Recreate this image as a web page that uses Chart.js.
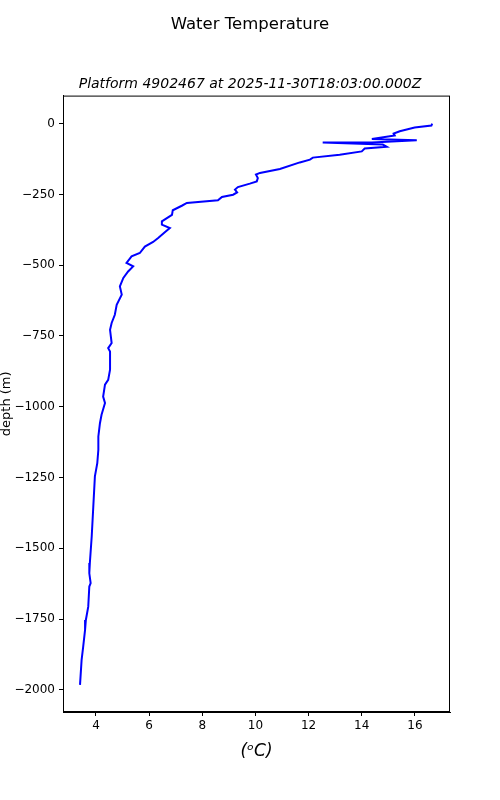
<!DOCTYPE html>
<html>
<head>
<meta charset="utf-8">
<script src="https://cdn.jsdelivr.net/npm/chart.js@4/dist/chart.umd.min.js"></script>
<style>
  html, body { margin: 0; padding: 0; background: #fff; }
  #wrap { width: 500px; height: 800px; }
</style>
</head>
<body>
<div id="wrap"><canvas id="profile"></canvas></div>
<script>
// profile: temperature (degC) and depth (m), in drawing order
var temperature = [16.65, 16.62, 15.99, 15.43, 15.20, 15.24, 14.38, 16.07, 14.38, 12.53,
	14.79, 14.94, 14.11, 14.00, 13.17, 12.16, 12.05, 11.67, 10.92, 10.17,
	10.02, 10.09, 10.05, 9.79, 9.34, 9.23, 9.31, 9.16, 8.74, 8.59,
	7.42, 7.23, 6.89, 6.86, 6.48, 6.48, 6.78, 6.59, 6.34, 6.15,
	5.84, 5.65, 5.34, 5.15, 5.40, 5.21, 5.03, 4.90, 4.97, 4.78,
	4.71, 4.59, 4.53, 4.59, 4.46, 4.53, 4.53, 4.46, 4.34, 4.27,
	4.34, 4.21, 4.15, 4.09, 4.09, 4.05, 3.96, 3.90, 3.84, 3.77,
	3.75, 3.80, 3.75, 3.71, 3.62, 3.59, 3.52, 3.46, 3.40];
var depth = [0, -7, -14, -27, -35, -42, -54, -59, -67, -67,
	-74, -82, -88, -98, -110, -120, -127, -137, -160, -174,
	-180, -192, -204, -212, -224, -233, -243, -251, -259, -271,
	-280, -290, -306, -322, -345, -357, -369, -384, -404, -418,
	-434, -457, -469, -492, -504, -522, -545, -575, -604, -640,
	-675, -704, -728, -775, -793, -805, -869, -905, -922, -964,
	-987, -1028, -1058, -1105, -1152, -1199, -1246, -1352, -1458, -1552,
	-1588, -1623, -1635, -1706, -1753, -1788, -1847, -1894, -1982];

var xTicks = [4, 6, 8, 10, 12, 14, 16];
var yTicks = [0, -250, -500, -750, -1000, -1250, -1500, -1750, -2000];

var points = [];
for (var i = 0; i < depth.length; i++) {
	points.push({x: temperature[i], y: depth[i]});
}

function minus(v) {
	return String(v).replace('-', '\u2212');
}

// top and right spines
var frame = {
	id: 'frame',
	afterDraw: function(chart) {
		var a = chart.chartArea, c = chart.ctx;
		c.save();
		c.strokeStyle = '#000';
		c.lineWidth = 1;
		c.strokeRect(a.left + 0.5, a.top + 0.5, a.right - a.left - 1, a.bottom - a.top - 1);
		c.restore();
	}
};

var ctx = document.getElementById('profile');

new Chart(ctx, {
	type: 'scatter',
	data: {
		datasets: [{
			label: 'temperature',
			data: points,
			showLine: true,
			borderColor: '#0000ff',
			borderWidth: 2,
			pointRadius: 0,
			fill: false,
			tension: 0
		}]
	},
	options: {
		responsive: true,
		maintainAspectRatio: false,
		animation: false,
		layout: { padding: 0 },
		plugins: {
			legend: { display: false },
			tooltip: { enabled: false },
			title: {
				display: true,
				text: 'Water Temperature',
				color: '#000',
				font: { family: 'DejaVu Sans', size: 16.5, weight: 'normal' },
				padding: { top: 15, bottom: 41 }
			},
			subtitle: {
				display: true,
				text: 'Platform 4902467 at 2025-11-30T18:03:00.000Z',
				color: '#000',
				font: { family: 'DejaVu Sans', size: 14, style: 'italic' },
				padding: { top: 0, bottom: 3 }
			}
		},
		scales: {
			x: {
				type: 'linear',
				min: 2.76,
				max: 17.32,
				afterFit: function(s) { s.height = 88; },
				afterBuildTicks: function(s) {
					s.ticks = xTicks.map(function(v) { return {value: v}; });
				},
				ticks: {
					color: '#000',
					font: { family: 'DejaVu Sans', size: 12 },
					padding: 3,
					maxRotation: 0
				},
				grid: { drawOnChartArea: false, drawTicks: true, tickLength: 4, color: '#000' },
				border: { display: true, color: '#000' },
				title: {
					display: true,
					text: '(\u1D52C)',
					color: '#000',
					font: { family: 'DejaVu Sans', size: 17, style: 'italic' },
					padding: { top: 0, bottom: 38 }
				}
			},
			y: {
				type: 'linear',
				min: -2078,
				max: 99,
				afterFit: function(s) { s.width = 63; },
				afterBuildTicks: function(s) {
					s.ticks = yTicks.map(function(v) { return {value: v}; });
				},
				ticks: {
					color: '#000',
					font: { family: 'DejaVu Sans', size: 12 },
					padding: 4,
					callback: function(v) { return minus(v); }
				},
				grid: { drawOnChartArea: false, drawTicks: true, tickLength: 4, color: '#000' },
				border: { display: true, color: '#000' },
				title: {
					display: true,
					text: 'depth (m)',
					color: '#000',
					font: { family: 'DejaVu Sans', size: 13, lineHeight: 1 },
					padding: { top: 0, bottom: 0 }
				}
			},
			// empty right-hand strip so the titles centre on the whole figure
			yRight: {
				type: 'linear',
				position: 'right',
				afterFit: function(s) { s.width = 50; },
				ticks: { display: false },
				grid: { display: false },
				border: { display: false }
			}
		}
	},
	plugins: [frame]
});
</script>
</body>
</html>
